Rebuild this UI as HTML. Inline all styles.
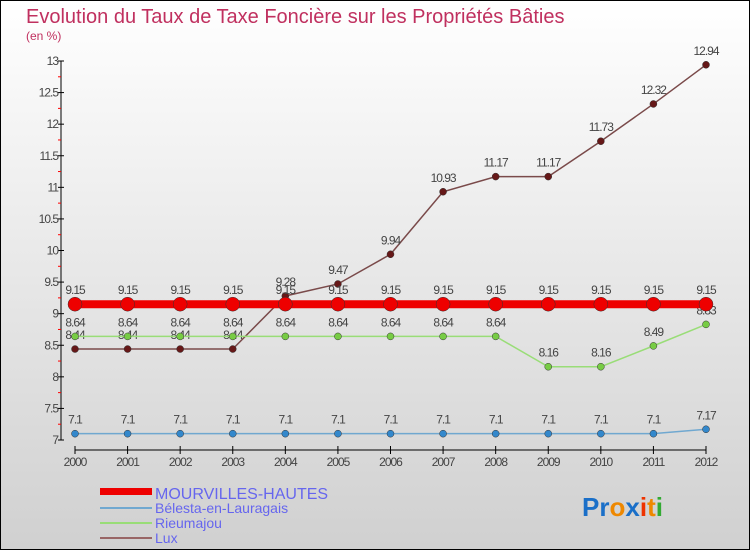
<!DOCTYPE html>
<html><head><meta charset="utf-8"><style>
body{margin:0}
#c{width:750px;height:550px;position:relative;font-family:"Liberation Sans",sans-serif}
</style></head><body>
<div id="c">
<svg id="s" width="750" height="550" xmlns="http://www.w3.org/2000/svg">
<defs><linearGradient id="bg" x1="0" y1="0" x2="0" y2="1"><stop offset="0" stop-color="#ffffff"/><stop offset="1" stop-color="#d0d0d0"/></linearGradient></defs>
<rect x="0.5" y="0.5" width="749" height="549" fill="url(#bg)" stroke="#000"/>
<text x="26" y="23" font-size="20" fill="#c0305f">Evolution du Taux de Taxe Foncière sur les Propriétés Bâties</text>
<text x="26" y="40" font-size="12" fill="#c0305f">(en %)</text>
<g id="axes"></g><g id="series"></g>
<g>
<rect x="100" y="488" width="52" height="7" fill="#ee0000"/>
<text x="155" y="499" font-size="16" fill="#6666ee">MOURVILLES-HAUTES</text>
<line x1="100" y1="508" x2="152" y2="508" stroke="#70a8d0" stroke-width="2"/>
<text x="155" y="513" font-size="14" fill="#6666ee">Bélesta-en-Lauragais</text>
<line x1="100" y1="523" x2="152" y2="523" stroke="#99dd77" stroke-width="2"/>
<text x="155" y="528" font-size="14" fill="#6666ee">Rieumajou</text>
<line x1="100" y1="538" x2="152" y2="538" stroke="#996666" stroke-width="2"/>
<text x="155" y="543" font-size="14" fill="#6666ee">Lux</text>
</g>
<text x="582" y="516" font-size="26" font-weight="bold"><tspan fill="#1a6fc8">Pr</tspan><tspan fill="#ee8800">o</tspan><tspan fill="#1a6fc8">x</tspan><tspan fill="#ee3300">i</tspan><tspan fill="#ee8800">t</tspan><tspan fill="#33aa33">i</tspan></text>
</svg></div>
<script>
const years=[2000,2001,2002,2003,2004,2005,2006,2007,2008,2009,2010,2011,2012];
const yTicks=[7,7.5,8,8.5,9,9.5,10,10.5,11,11.5,12,12.5,13];
const mourvilles=[9.15,9.15,9.15,9.15,9.15,9.15,9.15,9.15,9.15,9.15,9.15,9.15,9.15];
const belesta=[7.1,7.1,7.1,7.1,7.1,7.1,7.1,7.1,7.1,7.1,7.1,7.1,7.17];
const rieumajou=[8.64,8.64,8.64,8.64,8.64,8.64,8.64,8.64,8.64,8.16,8.16,8.49,8.83];
const lux=[8.44,8.44,8.44,8.44,9.28,9.47,9.94,10.93,11.17,11.17,11.73,12.32,12.94];
const NS="http://www.w3.org/2000/svg";
const X=i=>75+i*(706-75)/12;
const Y=v=>440-(v-7)*(440-61)/6;
function mk(t,a,p){const e=document.createElementNS(NS,t);for(const k in a)e.setAttribute(k,a[k]);p.appendChild(e);return e;}
const ax=document.getElementById('axes');
let e=mk('line',{x1:61,y1:61,x2:61,y2:440,stroke:'#000'},ax);


e=mk('line',{x1:75,y1:450,x2:706,y2:450,stroke:'#000'},ax);


yTicks.forEach(v=>{
  mk('line',{x1:58,y1:Y(v),x2:64,y2:Y(v),stroke:'#000'},ax);
  if(v<13){const m=mk('line',{x1:58,y1:Y(v+0.25),x2:61,y2:Y(v+0.25),stroke:'#ff0000'},ax);}
  const t=mk('text',{x:58,y:Y(v)+4,'font-size':12,fill:'#444','text-anchor':'end','letter-spacing':'-1'},ax);
  t.textContent=v;
  
  
});
years.forEach((y,i)=>{
  mk('line',{x1:X(i),y1:446,x2:X(i),y2:454,stroke:'#000'},ax);
  const t=mk('text',{x:X(i),y:466,'font-size':12,fill:'#444','text-anchor':'middle','letter-spacing':'-1'},ax);
  t.textContent=y;
  
  
});
const sg=document.getElementById('series');
function series(name,vals,color,w,r,fill,lab){
  const g=mk('g',{},sg);
  
  
  mk('polyline',{points:vals.map((v,i)=>X(i)+','+Y(v)).join(' '),fill:'none',stroke:color,'stroke-width':w},g);
  vals.forEach((v,i)=>{
    const c=mk('circle',{cx:X(i),cy:Y(v),r:r,fill:fill,stroke:'#333','stroke-width':0.5},g);
    
    
    const t=mk('text',{x:X(i),y:Y(v)-10,'font-size':12,fill:'#444','text-anchor':'middle','letter-spacing':'-1'},g);
    t.textContent=v;
    
    
  });
}
series('lux',lux,'#7a4a4a',1.5,3.5,'#661818');
series('rieumajou',rieumajou,'#99dd77',1.5,3.5,'#77cc44');
series('belesta',belesta,'#70a8d0',1.5,3.5,'#3388cc');
series('mourvilles',mourvilles,'#ee0000',8,7,'#ee0000');
</script>
</body></html>
